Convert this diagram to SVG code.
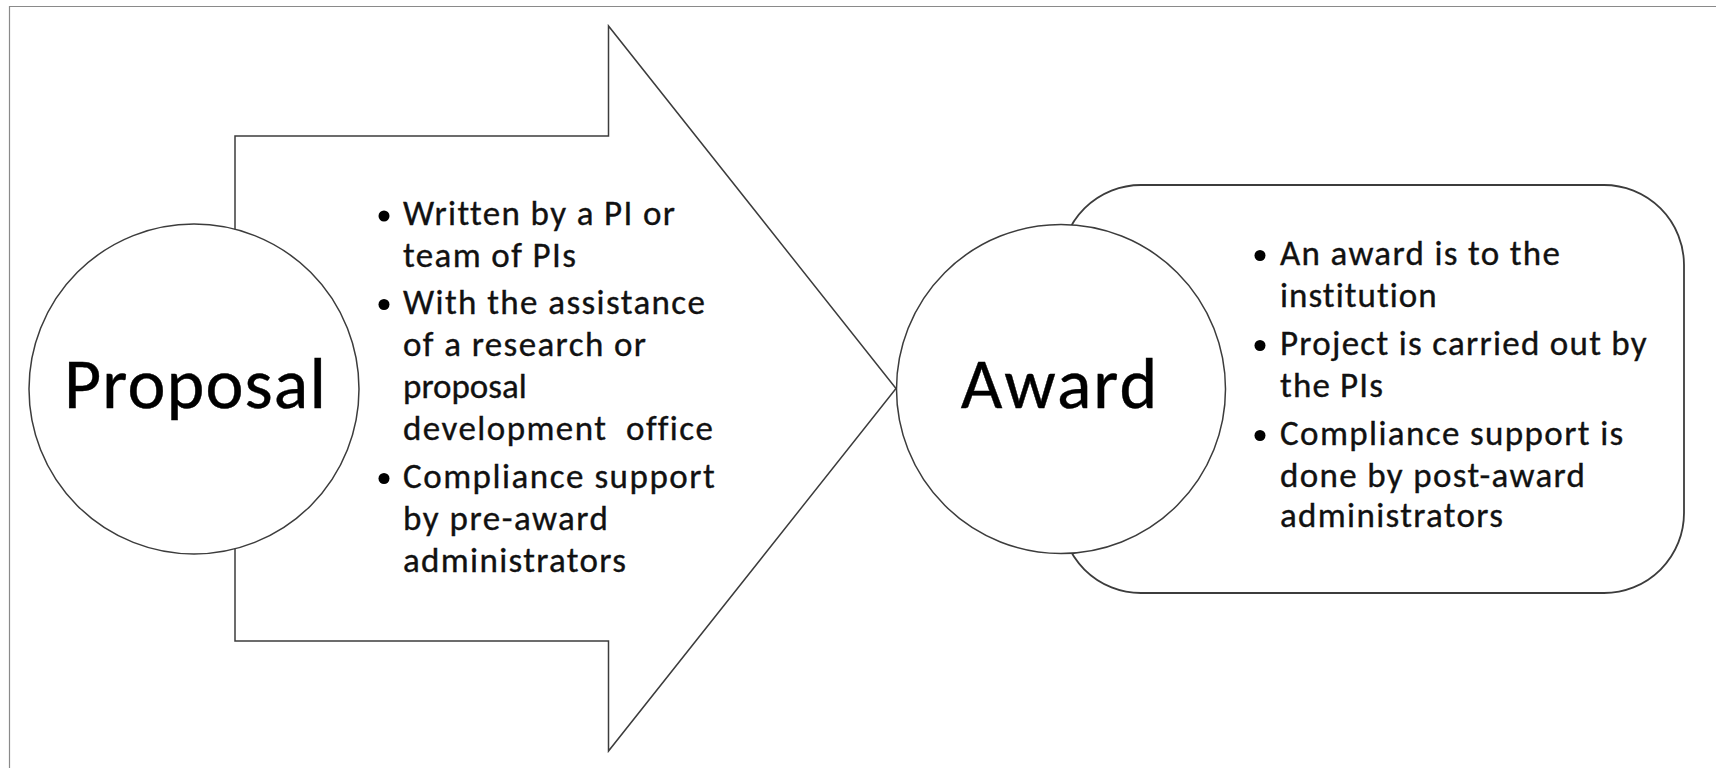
<svg xmlns="http://www.w3.org/2000/svg" width="1716" height="768" viewBox="0 0 1716 768">
  <style>
    .frame { stroke: #8a8a8a; stroke-width: 1.2; fill: none; }
    .shape { fill: #ffffff; stroke: #3c3c3c; stroke-width: 1.5; }
    .title { font-family: Calibri, Carlito, Lato, "Open Sans", sans-serif; font-size: 72px; fill: #000; stroke: #000; stroke-width: 0.4; text-anchor: middle; font-variant-ligatures: none; }
    .item { font-family: Calibri, Carlito, Lato, "Open Sans", sans-serif; font-size: 35px; fill: #111; stroke: #111; stroke-width: 0.35; font-variant-ligatures: none; }
    .dot { fill: #000; stroke: none; }
  </style>

  <rect width="1716" height="768" fill="#ffffff"/>
  <!-- page frame: top and left edges only -->
  <path class="frame" d="M9.5,768 V6.5 H1716"/>

  <!-- block arrow carrying the proposal stage notes -->
  <g id="arrow-proposal">
    <polygon class="shape" points="235,136 608.5,136 608.5,26 896,388.5 608.5,751 608.5,641 235,641"/>
    <g class="item">
      <circle class="dot" cx="384" cy="216" r="5.5"/>
      <text x="403" y="225" textLength="272">Written by a PI or</text>
      <text x="403" y="267" textLength="173">team of PIs</text>
      <circle class="dot" cx="384" cy="304.5" r="5.5"/>
      <text x="403" y="313.5" textLength="302">With the assistance</text>
      <text x="403" y="355.7" textLength="243">of a research or</text>
      <text x="403" y="397.9">proposal</text>
      <text x="403" y="440.1" textLength="310">development&#160; office</text>
      <circle class="dot" cx="384" cy="478.5" r="5.5"/>
      <text x="403" y="487.5" textLength="311.7">Compliance support</text>
      <text x="403" y="529.7" textLength="205">by pre-award</text>
      <text x="403" y="571.9" textLength="223">administrators</text>
    </g>
  </g>

  <!-- rounded panel carrying the award stage notes -->
  <g id="panel-award">
    <rect class="shape" x="1061" y="185" width="623" height="408" rx="80" ry="80" style="stroke-width:1.8"/>
    <g class="item">
      <circle class="dot" cx="1260" cy="255.5" r="5.5"/>
      <text x="1280" y="265" textLength="280">An award is to the</text>
      <text x="1280" y="307" textLength="156.7">institution</text>
      <circle class="dot" cx="1260" cy="345.5" r="5.5"/>
      <text x="1280" y="355" textLength="366.7">Project is carried out by</text>
      <text x="1280" y="397" textLength="103">the PIs</text>
      <circle class="dot" cx="1260" cy="435.5" r="5.5"/>
      <text x="1280" y="445" textLength="343.3">Compliance support is</text>
      <text x="1280" y="487" textLength="305">done by post-award</text>
      <text x="1280" y="527" textLength="223">administrators</text>
    </g>
  </g>

  <g id="node-proposal">
    <circle class="shape" cx="194" cy="389" r="165"/>
    <text class="title" x="195" y="408" textLength="262">Proposal</text>
  </g>

  <g id="node-award">
    <circle class="shape" cx="1061" cy="389" r="164.5"/>
    <text class="title" x="1059" y="408" textLength="196.5">Award</text>
  </g>
</svg>
